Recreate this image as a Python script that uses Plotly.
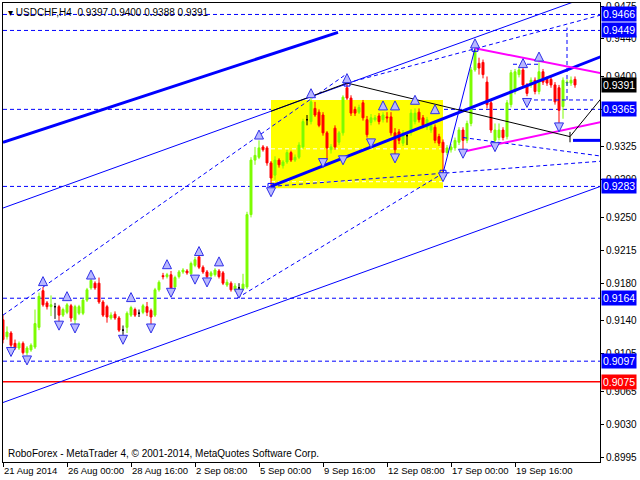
import plotly.graph_objects as go

# ---------------- data ----------------
x_labels = ["21 Aug 2014", "26 Aug 00:00", "28 Aug 16:00", "2 Sep 08:00", "5 Sep 00:00",
            "9 Sep 16:00", "12 Sep 08:00", "17 Sep 00:00", "19 Sep 16:00"]
x_label_bars = [0, 16, 32, 48, 64, 80, 96, 112, 128]

y_ticks = [0.9475, 0.9440, 0.9400, 0.9365, 0.9325, 0.9290, 0.9250, 0.9215, 0.9180,
           0.9140, 0.9105, 0.9065, 0.9030, 0.8995]

opens = [0.9141, 0.9123, 0.9127, 0.9116, 0.9111, 0.9116, 0.9106, 0.9109, 0.9112, 0.9133,
         0.9172, 0.9159, 0.9155, 0.9155, 0.9155, 0.9146, 0.9149, 0.9156, 0.9141, 0.9148,
         0.9148, 0.9162, 0.9175, 0.9180, 0.9180, 0.9160, 0.9155, 0.9143, 0.9147, 0.9143,
         0.9130, 0.9133, 0.9146, 0.9152, 0.9148, 0.9149, 0.9155, 0.9151, 0.9146, 0.9173,
         0.9188, 0.9187, 0.9189, 0.9176, 0.9187, 0.9192, 0.9193, 0.9190, 0.9199, 0.9208,
         0.9197, 0.9192, 0.9188, 0.9189, 0.9193, 0.9191, 0.9178, 0.9180, 0.9173, 0.9175,
         0.9174, 0.9176, 0.9253, 0.9311, 0.9314, 0.9325, 0.9324, 0.9308, 0.9295, 0.9311,
         0.9305, 0.9309, 0.9319, 0.9311, 0.9314, 0.9325, 0.9354, 0.9352, 0.9366, 0.9362,
         0.9359, 0.9340, 0.9322, 0.9345, 0.9330, 0.9340, 0.9388, 0.9377, 0.9365, 0.9362,
         0.9372, 0.9354, 0.9351, 0.9354, 0.9358, 0.9354, 0.9357, 0.9357, 0.9340, 0.9341,
         0.9329, 0.9337, 0.9340, 0.9352, 0.9362, 0.9356, 0.9346, 0.9343, 0.9346, 0.9336,
         0.9330, 0.9319, 0.9322, 0.9324, 0.9330, 0.9343, 0.9332, 0.9350, 0.9407, 0.9414,
         0.9415, 0.9394, 0.9372, 0.9332, 0.9335, 0.9343, 0.9336, 0.9370, 0.9384, 0.9402,
         0.9407, 0.9391, 0.9391, 0.9396, 0.9384, 0.9405, 0.9397, 0.9397, 0.9391, 0.9388,
         0.9368, 0.9393, 0.9393, 0.9397]
highs = [0.9146, 0.9134, 0.9129, 0.9120, 0.9118, 0.9118, 0.9113, 0.9116, 0.9152, 0.9170,
         0.9176, 0.9161, 0.9167, 0.9159, 0.9157, 0.9154, 0.9159, 0.9158, 0.9157, 0.9157,
         0.9164, 0.9175, 0.9187, 0.9182, 0.9186, 0.9162, 0.9157, 0.9149, 0.9150, 0.9145,
         0.9135, 0.9150, 0.9156, 0.9154, 0.9152, 0.9158, 0.9160, 0.9153, 0.9175, 0.9183,
         0.9191, 0.9191, 0.9193, 0.9188, 0.9194, 0.9196, 0.9195, 0.9203, 0.9208, 0.9212,
         0.9199, 0.9194, 0.9193, 0.9196, 0.9195, 0.9193, 0.9184, 0.9182, 0.9180, 0.9180,
         0.9190, 0.9256, 0.9314, 0.9325, 0.9332, 0.9327, 0.9326, 0.9310, 0.9315, 0.9313,
         0.9311, 0.9322, 0.9321, 0.9317, 0.9330, 0.9355, 0.9359, 0.9378, 0.9373, 0.9365,
         0.9362, 0.9342, 0.9328, 0.9348, 0.9342, 0.9380, 0.9393, 0.9380, 0.9368, 0.9370,
         0.9375, 0.9358, 0.9360, 0.9359, 0.9361, 0.9362, 0.9362, 0.9362, 0.9345, 0.9344,
         0.9343, 0.9340, 0.9365, 0.9366, 0.9366, 0.9359, 0.9357, 0.9351, 0.9349, 0.9339,
         0.9333, 0.9327, 0.9328, 0.9335, 0.9346, 0.9346, 0.9353, 0.9410, 0.9430, 0.9420,
         0.9418, 0.9400, 0.9375, 0.9350, 0.9350, 0.9346, 0.9375, 0.9407, 0.9408, 0.9410,
         0.9410, 0.9393, 0.9399, 0.9399, 0.9415, 0.9408, 0.9400, 0.9400, 0.9394, 0.9391,
         0.9399, 0.9397, 0.9400, 0.9400]
lows = [0.9116, 0.9120, 0.9110, 0.9109, 0.9109, 0.9104, 0.9103, 0.9107, 0.9110, 0.9130,
        0.9155, 0.9152, 0.9145, 0.9142, 0.9138, 0.9144, 0.9147, 0.9139, 0.9134, 0.9146,
        0.9146, 0.9160, 0.9173, 0.9173, 0.9158, 0.9144, 0.9138, 0.9141, 0.9141, 0.9128,
        0.9125, 0.9127, 0.9144, 0.9144, 0.9144, 0.9147, 0.9145, 0.9136, 0.9144, 0.9171,
        0.9184, 0.9185, 0.9173, 0.9174, 0.9185, 0.9190, 0.9189, 0.9188, 0.9197, 0.9195,
        0.9190, 0.9184, 0.9186, 0.9187, 0.9185, 0.9178, 0.9176, 0.9171, 0.9171, 0.9171,
        0.9172, 0.9174, 0.9250, 0.9306, 0.9312, 0.9320, 0.9305, 0.9283, 0.9290, 0.9303,
        0.9302, 0.9307, 0.9309, 0.9309, 0.9312, 0.9323, 0.9348, 0.9349, 0.9357, 0.9346,
        0.9337, 0.9311, 0.9318, 0.9322, 0.9327, 0.9337, 0.9375, 0.9358, 0.9358, 0.9360,
        0.9353, 0.9335, 0.9348, 0.9352, 0.9349, 0.9351, 0.9351, 0.9337, 0.9316, 0.9328,
        0.9326, 0.9327, 0.9337, 0.9349, 0.9351, 0.9345, 0.9343, 0.9340, 0.9329, 0.9326,
        0.9297, 0.9316, 0.9319, 0.9321, 0.9327, 0.9322, 0.9329, 0.9347, 0.9405, 0.9402,
        0.9398, 0.9366, 0.9340, 0.9329, 0.9332, 0.9332, 0.9333, 0.9367, 0.9381, 0.9399,
        0.9388, 0.9379, 0.9388, 0.9381, 0.9381, 0.9391, 0.9390, 0.9388, 0.9370, 0.9350,
        0.9355, 0.9390, 0.9390, 0.9388]
closes = [0.9120, 0.9128, 0.9114, 0.9111, 0.9116, 0.9106, 0.9111, 0.9114, 0.9137, 0.9166,
          0.9157, 0.9155, 0.9157, 0.9155, 0.9146, 0.9152, 0.9157, 0.9143, 0.9155, 0.9155,
          0.9162, 0.9173, 0.9183, 0.9175, 0.9160, 0.9146, 0.9144, 0.9146, 0.9143, 0.9130,
          0.9130, 0.9148, 0.9154, 0.9146, 0.9148, 0.9156, 0.9149, 0.9144, 0.9173, 0.9181,
          0.9187, 0.9189, 0.9175, 0.9186, 0.9192, 0.9194, 0.9191, 0.9201, 0.9205, 0.9197,
          0.9192, 0.9187, 0.9191, 0.9194, 0.9187, 0.9180, 0.9181, 0.9173, 0.9177, 0.9175,
          0.9179, 0.9253, 0.9311, 0.9316, 0.9324, 0.9322, 0.9308, 0.9292, 0.9311, 0.9306,
          0.9309, 0.9319, 0.9311, 0.9314, 0.9327, 0.9352, 0.9354, 0.9373, 0.9359, 0.9348,
          0.9340, 0.9324, 0.9325, 0.9325, 0.9340, 0.9378, 0.9377, 0.9361, 0.9361, 0.9367,
          0.9356, 0.9338, 0.9356, 0.9356, 0.9352, 0.9359, 0.9356, 0.9340, 0.9322, 0.9332,
          0.9340, 0.9337, 0.9361, 0.9361, 0.9354, 0.9348, 0.9354, 0.9348, 0.9332, 0.9329,
          0.9319, 0.9324, 0.9325, 0.9332, 0.9343, 0.9332, 0.9350, 0.9407, 0.9428, 0.9409,
          0.9402, 0.9370, 0.9343, 0.9343, 0.9343, 0.9335, 0.9372, 0.9404, 0.9405, 0.9407,
          0.9391, 0.9382, 0.9396, 0.9384, 0.9405, 0.9394, 0.9393, 0.9391, 0.9373, 0.9364,
          0.9396, 0.9394, 0.9396, 0.9391]

# horizontal levels (blue dashed) and the red level
blue_levels = [0.9466, 0.9449, 0.9365, 0.9283, 0.9164, 0.9097]
red_level = 0.9075
last_price = 0.9391

# fractal markers (bar, price)
up_fr_bar = [10, 16, 22, 32, 41, 49, 54, 64, 77, 86, 95, 98, 103, 108, 118, 130, 134]
up_fr_price = [0.9187, 0.9171, 0.9194, 0.9170, 0.9205, 0.9219, 0.9208, 0.9343, 0.9387, 0.9403,
               0.9374, 0.9374, 0.9380, 0.9370, 0.9440, 0.9419, 0.9426]
dn_fr_bar = [2, 6, 14, 18, 30, 37, 42, 48, 51, 59, 67, 80, 85, 92, 98, 110, 115, 123, 131, 139]
dn_fr_price = [0.9102, 0.9093, 0.9130, 0.9127, 0.9115, 0.9127, 0.9165, 0.9179, 0.9176, 0.9164,
               0.9272, 0.9303, 0.9306, 0.9324, 0.9308, 0.9288, 0.9313, 0.9320, 0.9367, 0.9341]

# rectangle (bars, prices)
rect_bars = [67, 110]
rect_prices = [0.9281, 0.9375]
rect_inner_levels = [0.9323, 0.9288]

# trend lines: (bar0, price0, bar1, price1)
thick_lines = [
    (0, 0.9330, 83.75, 0.9447),
    (67, 0.9283, 150, 0.9422),
    (142.5, 0.9332, 150, 0.9332),
]
thin_lines = [
    (0, 0.9260, 145, 0.9483),
    (0, 0.9053, 150, 0.9284),
    (110, 0.9297, 118, 0.9430),
]
dashed_lines = [
    (0, 0.9146, 86, 0.9403),
    (58.5, 0.9164, 110, 0.9297),
    (67, 0.9283, 150, 0.9310),
    (86, 0.9393, 150, 0.9466),
    (115, 0.9335, 150, 0.9315),
    (141, 0.9375, 141, 0.9452),
    (131, 0.9375, 147.5, 0.9375),
    (127.5, 0.9413, 134.5, 0.9413),
]
magenta_lines = [
    (118, 0.9430, 150, 0.9403),
    (115, 0.9320, 150, 0.9352),
]
black_lines = [
    (67, 0.9363, 86, 0.9393),
    (86, 0.9393, 141.75, 0.9336),
    (141.75, 0.9336, 150, 0.9379),
    (141.75, 0.9341, 141.75, 0.9330),
]
pivot_bars = [67, 86, 110, 118]
pivot_prices = [0.9283, 0.9393, 0.9297, 0.9430]

# ---------------- figure ----------------
FONT = "Liberation Sans, Arial, sans-serif"
fig = go.Figure()

n = len(opens)
xs = list(range(n))
reg = [i for i in xs if opens[i] != closes[i]]
doji = [i for i in xs if opens[i] == closes[i]]

fig.add_trace(go.Candlestick(
    x=reg, open=[opens[i] for i in reg], high=[highs[i] for i in reg],
    low=[lows[i] for i in reg], close=[closes[i] for i in reg],
    increasing=dict(line=dict(color="#7CFC00", width=1), fillcolor="#7CFC00"),
    decreasing=dict(line=dict(color="#FF0000", width=1), fillcolor="#FF0000"),
    whiskerwidth=0, hoverinfo="skip"))
fig.add_trace(go.Candlestick(
    x=doji, open=[opens[i] for i in doji], high=[highs[i] for i in doji],
    low=[lows[i] for i in doji], close=[closes[i] for i in doji],
    increasing=dict(line=dict(color="black", width=1), fillcolor="black"),
    decreasing=dict(line=dict(color="black", width=1), fillcolor="black"),
    whiskerwidth=0, hoverinfo="skip"))


def add_lines(lines, color, width, dash="solid"):
    for (b0, p0, b1, p1) in lines:
        fig.add_trace(go.Scatter(x=[b0, b1], y=[p0, p1], mode="lines",
                                 line=dict(color=color, width=width, dash=dash),
                                 hoverinfo="skip"))


add_lines(thick_lines, "#0000FF", 3)
add_lines(thin_lines, "#0000FF", 1)
add_lines(dashed_lines, "#0000FF", 1, "4px,3px")
add_lines(magenta_lines, "#FF00FF", 2)
add_lines(black_lines, "black", 1)

fig.add_trace(go.Scatter(x=pivot_bars, y=pivot_prices, mode="markers",
                         marker=dict(symbol="square-open", size=6, color="#0000FF", line=dict(width=1)),
                         hoverinfo="skip"))
fig.add_trace(go.Scatter(x=up_fr_bar, y=up_fr_price, mode="markers",
                         marker=dict(symbol="arrow-up", size=9, color="#B8B8FF",
                                     line=dict(color="#3030E8", width=1)), hoverinfo="skip"))
fig.add_trace(go.Scatter(x=dn_fr_bar, y=dn_fr_price, mode="markers",
                         marker=dict(symbol="arrow-down", size=9, color="#B8B8FF",
                                     line=dict(color="#3030E8", width=1)), hoverinfo="skip"))

shapes = []
shapes.append(dict(type="rect", xref="x", yref="y", x0=rect_bars[0], x1=rect_bars[1],
                   y0=rect_prices[0], y1=rect_prices[1], fillcolor="#FFFF00",
                   line=dict(width=0), layer="below"))
for lv in rect_inner_levels:
    shapes.append(dict(type="line", xref="x", yref="y", x0=rect_bars[0], x1=rect_bars[1],
                       y0=lv, y1=lv, line=dict(color="white", width=1, dash="4px,3px"), layer="below"))
for lv in blue_levels:
    shapes.append(dict(type="line", xref="paper", yref="y", x0=0, x1=1, y0=lv, y1=lv,
                       line=dict(color="#0000FF", width=1, dash="4px,3px"), layer="below"))
shapes.append(dict(type="line", xref="paper", yref="y", x0=0, x1=1, y0=red_level, y1=red_level,
                   line=dict(color="#FF0000", width=1.5), layer="below"))

annotations = []
for lv, bg in [(v, "#0000FF") for v in blue_levels] + [(red_level, "#FF0000"), (last_price, "black")]:
    annotations.append(dict(xref="paper", yref="y", x=1, y=lv, xanchor="left", yanchor="middle",
                            xshift=1, text=f"{lv:.4f}", showarrow=False, bgcolor=bg,
                            borderpad=1, font=dict(family=FONT, size=10.5, color="white")))
annotations.append(dict(xref="paper", yref="paper", x=0, y=1, xanchor="left", yanchor="top",
                        xshift=3, yshift=-2, showarrow=False,
                        text="▾ USDCHF,H4  0.9397 0.9400 0.9388 0.9391",
                        font=dict(family=FONT, size=10, color="black")))
annotations.append(dict(xref="paper", yref="paper", x=0, y=0, xanchor="left", yanchor="bottom",
                        xshift=3, yshift=1, showarrow=False,
                        text="RoboForex - MetaTrader 4, © 2001-2014, MetaQuotes Software Corp.",
                        font=dict(family=FONT, size=10, color="black")))

fig.update_layout(
    width=640, height=480, margin=dict(l=3, r=40, t=3, b=18),
    paper_bgcolor="white", plot_bgcolor="white", showlegend=False,
    shapes=shapes, annotations=annotations,
)
fig.update_xaxes(range=[0, 149.25], tickvals=x_label_bars, ticktext=x_labels,
                 ticks="outside", ticklen=4, tickcolor="black", showgrid=False, zeroline=False,
                 showline=True, linecolor="black", linewidth=1, mirror=True, tickangle=0,
                 automargin=False, ticklabelposition="outside right",
                 rangeslider=dict(visible=False),
                 tickfont=dict(family=FONT, size=9.5, color="black"))
fig.update_yaxes(side="right", range=[0.89897, 0.94782], tickvals=y_ticks,
                 ticktext=[f"{v:.4f}" for v in y_ticks], automargin=False,
                 ticks="outside", ticklen=3, tickcolor="black", showgrid=False, zeroline=False,
                 showline=True, linecolor="black", linewidth=1, mirror=True,
                 tickfont=dict(family=FONT, size=10, color="black"))

fig.write_html("out.html", config={"displayModeBar": False},
               post_script="document.body.style.margin='0';document.body.style.overflow='hidden';")
